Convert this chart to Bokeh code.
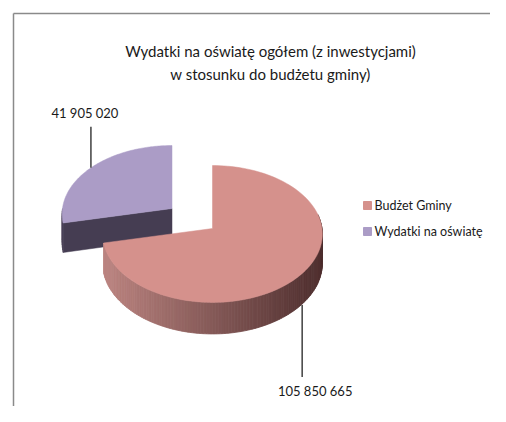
import numpy as np
from bokeh.plotting import figure
from bokeh.models import Range1d
from bokeh.core.properties import value
from bokeh.embed import file_html
from bokeh.resources import INLINE

# ---------------- data ----------------
title_lines = ["Wydatki na oświatę ogółem (z inwestycjami)", "w stosunku do budżetu gminy)"]
categories = ["Budżet Gminy", "Wydatki na oświatę"]
values = [105850665, 41905020]
value_labels = ["105 850 665", "41 905 020"]
top_colors = ["#d5918c", "#ab9cc6"]
cut_colors = ["#7a4a48", "#453d52"]
side_light = ["#bc8581", "#4a4258"]
side_dark = ["#4e2e2e", "#3a3346"]

FONT = "Lato"

# ---------------- figure ----------------
W, H = 490, 406
p = figure(width=W, height=H, x_range=Range1d(0, W), y_range=Range1d(H, 0),
           output_backend="svg", toolbar_location=None, min_border=0)
p.axis.visible = False
p.grid.visible = False
p.outline_line_color = None
p.background_fill_color = "white"

# chart frame (only top/left visible in the crop)
p.segment(x0=[13, 13], y0=[13, 13], x1=[520, 13], y1=[13, 430], line_color="#8a8a8a", line_width=1.5)

# ---------------- 3D pie geometry ----------------
cx, cy = 212.0, 228.0
R, RY, K, D = 109.5, 68.0, 0.08, 29.0
explode = [(0.0, 0.0), (-40.5, -20.0)]

def proj(theta_deg, off, depth=0.0):
    t = np.radians(theta_deg)
    s, c = np.sin(t), np.cos(t)
    w = 1 + K * s
    return cx + off[0] + R * c / w, cy + off[1] - RY * s / w + depth / w

total = float(sum(values))
fracs = [v / total for v in values]
# slices go clockwise from 12 o'clock
starts, ends = [], []
a = 90.0
for f in fracs:
    starts.append(a)
    ends.append(a - 360 * f)
    a -= 360 * f

def hex2rgb(h):
    h = h.lstrip("#")
    return np.array([int(h[i:i + 2], 16) for i in (0, 2, 4)], float)

def rgb2hex(c):
    return "#%02x%02x%02x" % tuple(int(round(v)) for v in c)

def side_strips(i, th0, th1, n=80):
    off = explode[i]
    ths = np.linspace(th0, th1, n + 1)
    xs, ys, cols = [], [], []
    xmin, xmax = cx - R + off[0], cx + R + off[0]
    cl, cd = hex2rgb(side_light[i]), hex2rgb(side_dark[i])
    for j in range(n):
        a0, a1 = ths[j], ths[j + 1]
        x0, y0 = proj(a0, off)
        x1, y1 = proj(a1, off)
        x0b, y0b = proj(a0, off, D)
        x1b, y1b = proj(a1, off, D)
        xs.append([x0, x1, x1b, x0b])
        ys.append([y0, y1, y1b, y0b])
        tt = np.clip(((x0 + x1) / 2 - xmin) / (xmax - xmin), 0, 1)
        cols.append(rgb2hex(cl + (cd - cl) * tt))
    return xs, ys, cols

def top_face(i, n=120):
    off = explode[i]
    ths = np.linspace(starts[i], ends[i], n)
    pts = [proj(t, off) for t in ths]
    apx, apy = cx + off[0], cy + off[1]
    return [apx] + [q[0] for q in pts], [apy] + [q[1] for q in pts]

# --- purple (exploded) slice: drawn first (behind) ---
i = 1
off = explode[i]
rim_ang = starts[i]          # radius shared with the main slice (about 192 deg)
xt, yt = proj(rim_ang, off)
xb, yb = proj(rim_ang, off, D)
apx, apy = cx + off[0], cy + off[1]
p.patch([apx, xt, xb, apx], [apy, yt, yb, apy + D], fill_color=cut_colors[i],
        line_color=cut_colors[i], line_width=0.5)
# small outer side of the purple slice facing the viewer (180..192 deg)
sx, sy, sc = side_strips(i, rim_ang, -180.0, n=6)
p.patches(sx, sy, fill_color=sc, line_color=sc, line_width=0.5)
fx, fy = top_face(i)
p.patch(fx, fy, fill_color=top_colors[i], line_color=top_colors[i], line_width=0.5)

# --- pink (main) slice ---
i = 0
sx, sy, sc = side_strips(i, ends[i], 12.0, n=120)
p.patches(sx, sy, fill_color=sc, line_color=sc, line_width=0.8)
fx, fy = top_face(i)
p.patch(fx, fy, fill_color=top_colors[i], line_color=top_colors[i], line_width=0.5)

# ---------------- data labels with leader lines ----------------
mid0 = (starts[0] + ends[0]) / 2
mid1 = (starts[1] + ends[1]) / 2
lx0, ly0 = proj(mid0, explode[0], D)
lx1, ly1 = proj(mid1, explode[1])
p.segment(x0=[lx0, lx1], y0=[ly0 + 1, ly1], x1=[lx0, lx1], y1=[ly0 + 73, ly1 - 41],
          line_color="#404040", line_width=1.5)
p.text(x=[lx0 + 13, lx1 - 6], y=[390, 112], text=value_labels,
       text_font=value(FONT), text_font_size="13px", text_color="#1a1a1a",
       text_align="center", text_baseline="middle")

# ---------------- title ----------------
p.text(x=[270, 270], y=[50, 73], text=title_lines, text_font=value(FONT),
       text_font_size="15px", text_color="#1a1a1a", text_align="center", text_baseline="middle")

# ---------------- legend ----------------
leg_y = [205, 231]
p.scatter(x=[367, 367], y=leg_y, marker="square", size=8, fill_color=top_colors, line_color=top_colors)
p.text(x=[374, 374], y=leg_y, text=categories, text_font=value(FONT), text_font_size="12.5px",
       text_color="#1a1a1a", text_align="left", text_baseline="middle")

open("out.html", "w").write(file_html(p, INLINE))
